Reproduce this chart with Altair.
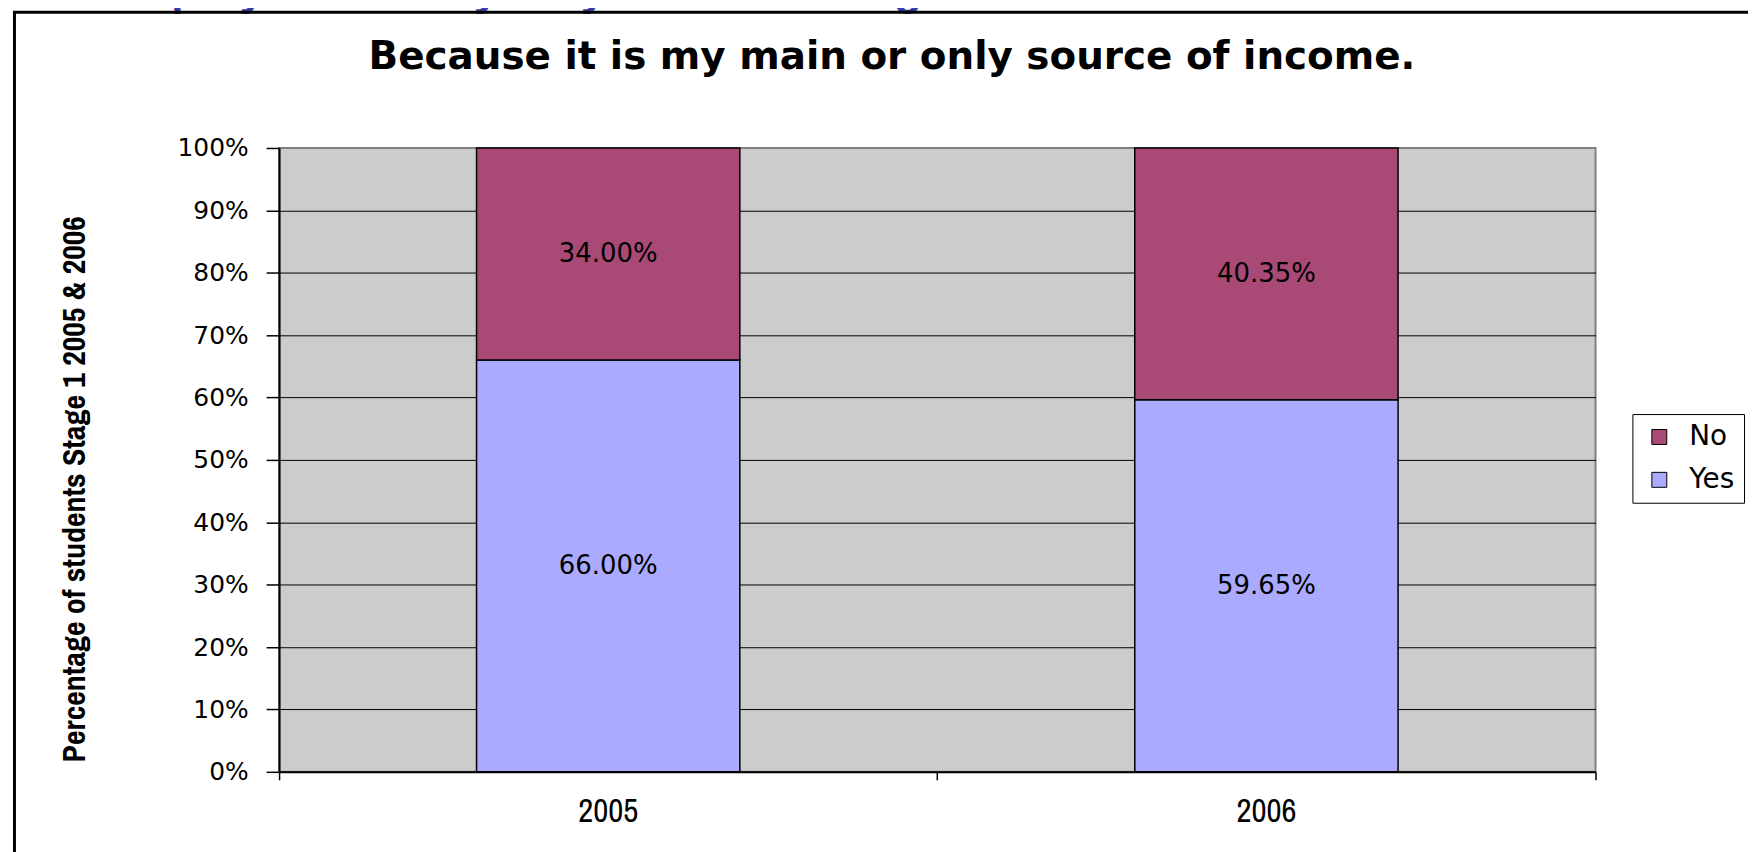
import altair as alt
import pandas as pd

# ---- data ----
years = ["2005", "2006"]
yes_values = [66.00, 59.65]
no_values = [34.00, 40.35]
responses = ["No", "Yes"]
y_ticks = [0, 10, 20, 30, 40, 50, 60, 70, 80, 90, 100]

chart_title = "Because it is my main or only source of income."
slide_title = "Paid Employment: Why do you work? Stage 1"
y_title = "Percentage of students Stage 1 2005 & 2006"

rows = []
for y, a, b in zip(years, yes_values, no_values):
    rows.append({"year": y, "response": "Yes", "value": a, "ord": 0})
    rows.append({"year": y, "response": "No", "value": b, "ord": 1})
df = pd.DataFrame(rows)

W, H = 1321, 626
YES_C = "#AAAAFF"
NO_C = "#A84A75"
NARROW = "Archivo Narrow, Asap Condensed, sans-serif"
WIDE = "DejaVu Sans"

base = alt.Chart(df).transform_stack(
    stack="value", groupby=["year"], as_=["v0", "v1"],
    sort=[alt.SortField("ord", order="ascending")]
).transform_calculate(
    mid="(datum.v0 + datum.v1) / 2",
    label="format(datum.value, '.2f') + '%'"
)

x_enc = alt.X(
    "year:N",
    scale=alt.Scale(paddingInner=0, paddingOuter=0),
    axis=alt.Axis(
        title=None, bandPosition=1, tickExtra=True,
        domainColor="black", domainWidth=2, tickColor="black", tickWidth=1.5, tickSize=8,
        labelFont=NARROW, labelFontSize=33, labelColor="black", labelAngle=0,
        labelBaseline="middle", labelPadding=32, grid=False,
    ),
)
y_enc = alt.Y(
    "v0:Q",
    scale=alt.Scale(domain=[0, 100], nice=False),
    axis=alt.Axis(
        values=y_ticks, labelExpr="datum.value + '%'",
        title=y_title, titleFont=NARROW, titleFontSize=32, titleFontWeight="bold",
        titleColor="black", titleAngle=270, titleX=-205, titleY=342,
        titleAlign="center", titleBaseline="middle",
        grid=True, gridColor={"condition": {"test": "datum.value === 100", "value": "#808080"}, "value": "black"},
        gridWidth=1, domainColor="black", domainWidth=2, tickColor="black", tickWidth=1.5,
        tickSize=13, labelFont=WIDE, labelFontSize=25, labelColor="black", labelPadding=18,
    ),
)

bars = base.mark_bar(width=alt.RelativeBandSize(0.4), stroke="black", strokeWidth=1.5).encode(
    x=x_enc,
    y=y_enc,
    y2="v1:Q",
    color=alt.Color(
        "response:N",
        scale=alt.Scale(domain=responses, range=[NO_C, YES_C]),
        legend=alt.Legend(
            title=None, orient="none", legendX=1358, legendY=267,
            strokeColor="black", fillColor="white", padding=9, symbolOffset=4,
            symbolType="square", symbolSize=225, symbolStrokeColor="black", symbolStrokeWidth=1,
            labelFont=WIDE, labelFontSize=28, labelColor="black", rowPadding=15, labelOffset=16,
        ),
    ),
)

texts = base.mark_text(font=WIDE, fontSize=26, color="black", baseline="middle").encode(
    x="year:N", y="mid:Q", text="label:N"
)

one = pd.DataFrame({"a": [0]})
title_mark = alt.Chart(one).mark_text(
    font=WIDE, fontSize=39, fontWeight="bold", color="black", align="center", baseline="alphabetic"
).encode(x=alt.value(615), y=alt.value(-79), text=alt.value(chart_title))

slide_mark = alt.Chart(one).mark_text(
    font="Liberation Sans", fontSize=46, fontWeight="bold", color="#3C3CA8", align="left", baseline="alphabetic"
).encode(x=alt.value(-290), y=alt.value(-144), text=alt.value(slide_title))

frame_left = alt.Chart(one).mark_rule(color="black", strokeWidth=3).encode(
    x=alt.value(-265.5), y=alt.value(-137.5), y2=alt.value(720)
)
frame_top = alt.Chart(one).mark_rule(color="black", strokeWidth=3).encode(
    x=alt.value(-267), x2=alt.value(1480), y=alt.value(-136.3)
)

chart = alt.layer(slide_mark, frame_left, frame_top, bars, texts, title_mark).properties(
    width=W, height=H,
    autosize=alt.AutoSizeParams(type="none"),
    padding={"left": 272, "top": 139, "right": 153, "bottom": 79},
    background="white",
).configure_view(
    fill="#CCCCCC", stroke="#808080", strokeWidth=2
)

chart.save("out.html", embed_options={"renderer": "svg", "actions": False})
